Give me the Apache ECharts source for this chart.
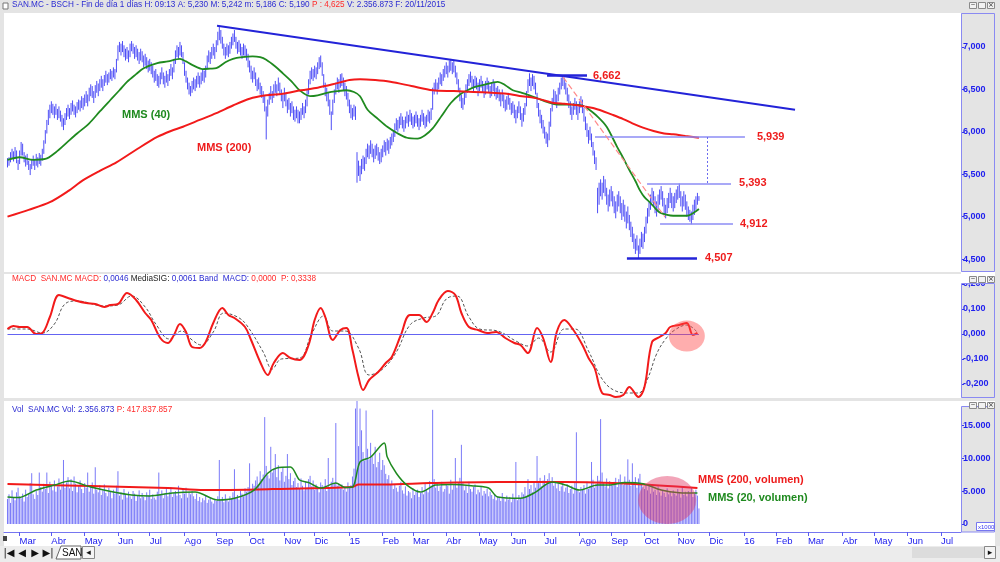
<!DOCTYPE html>
<html>
<head>
<meta charset="utf-8">
<title>SAN.MC - BSCH</title>
<script src="https://cdn.jsdelivr.net/npm/echarts@6.0.0/dist/echarts.min.js"></script>
<style>
  html, body { margin: 0; padding: 0; background: #e4e4e4; }
  #main { width: 1000px; height: 562px; }
</style>
</head>
<body>
<div id="main"></div>
<script>
// SAN.MC diario, 19/02/2014 .. 20/11/2015
const lows = [
  5.58,5.60,5.64,5.68,5.65,5.70,5.63,5.55,5.62,5.72, 5.72,5.64,5.59,5.61,5.55,5.49,5.56,5.60,5.55,5.60,
  5.58,5.62,5.60,5.66,5.74,5.86,5.98,6.08,6.16,6.22, 6.20,6.16,6.20,6.14,6.16,6.12,6.06,6.02,6.08,6.14,
  6.18,6.15,6.20,6.24,6.20,6.17,6.22,6.26,6.24,6.28, 6.26,6.30,6.34,6.30,6.36,6.42,6.40,6.34,6.40,6.46,
  6.42,6.48,6.52,6.48,6.54,6.58,6.55,6.58,6.62,6.60, 6.64,6.62,6.70,6.84,6.94,6.90,6.94,6.88,6.84,6.86,
  6.82,6.88,6.95,6.92,6.86,6.88,6.84,6.80,6.84,6.82, 6.76,6.78,6.74,6.70,6.72,6.68,6.64,6.58,6.60,6.54,
  6.52,6.56,6.62,6.56,6.52,6.58,6.54,6.60,6.66,6.62, 6.70,6.80,6.88,6.86,6.90,6.88,6.80,6.66,6.58,6.50,
  6.44,6.42,6.46,6.50,6.48,6.52,6.56,6.52,6.56,6.60, 6.58,6.64,6.74,6.82,6.80,6.86,6.90,6.86,6.94,7.02,
  7.08,7.04,6.98,6.90,6.86,6.90,6.88,6.92,6.98,7.02, 7.06,6.98,6.92,6.94,6.90,6.86,6.90,6.88,6.84,6.76,
  6.70,6.62,6.58,6.62,6.54,6.48,6.50,6.44,6.40,6.34, 6.24,5.91,6.18,6.32,6.38,6.34,6.40,6.46,6.42,6.48,
  6.44,6.36,6.28,6.36,6.30,6.22,6.26,6.18,6.22,6.14, 6.12,6.16,6.10,6.10,6.14,6.20,6.16,6.22,6.30,6.44,
  6.56,6.62,6.60,6.64,6.62,6.68,6.74,6.76,6.66,6.52, 6.42,6.36,6.30,6.20,6.02,6.20,6.34,6.44,6.50,6.46,
  6.52,6.54,6.48,6.42,6.38,6.30,6.22,6.16,6.14,6.18, 6.14,5.40,5.48,5.42,5.50,5.56,5.54,5.62,5.70,5.68,
  5.74,5.70,5.64,5.68,5.72,5.66,5.62,5.64,5.70,5.76, 5.72,5.78,5.74,5.80,5.84,5.88,5.94,6.02,6.00,6.04,
  6.08,6.04,6.00,6.04,6.10,6.06,6.12,6.08,6.04,6.06, 6.10,6.06,6.02,6.06,6.12,6.08,6.04,6.06,6.12,6.10,
  6.14,6.26,6.44,6.48,6.44,6.50,6.56,6.54,6.60,6.64, 6.68,6.64,6.70,6.72,6.68,6.70,6.64,6.56,6.48,6.36,
  6.28,6.26,6.32,6.40,6.46,6.54,6.58,6.52,6.48,6.52, 6.50,6.42,6.48,6.52,6.46,6.40,6.44,6.50,6.46,6.40,
  6.42,6.48,6.42,6.38,6.40,6.36,6.30,6.36,6.28,6.24, 6.26,6.32,6.26,6.20,6.22,6.16,6.10,6.16,6.22,6.14,
  6.06,6.12,6.20,6.30,6.46,6.54,6.48,6.54,6.50,6.44, 6.28,6.18,6.10,6.04,5.98,5.92,5.86,5.82,5.90,6.06,
  6.24,6.32,6.32,6.28,6.36,6.44,6.50,6.54,6.50,6.44, 6.36,6.28,6.20,6.14,6.20,6.26,6.20,6.14,6.22,6.28,
  6.22,6.12,6.02,5.94,5.86,5.90,5.82,5.72,5.62,5.55, 5.04,5.14,5.24,5.20,5.28,5.24,5.14,5.06,5.12,5.18,
  5.12,5.04,4.98,5.06,5.12,5.04,4.96,5.00,4.94,4.86, 4.92,4.84,4.76,4.70,4.62,4.56,4.60,4.51,4.56,4.64,
  4.62,4.70,4.80,4.92,5.00,5.08,5.16,5.12,5.04,5.00, 5.06,5.14,5.20,5.12,5.02,4.98,5.04,5.10,5.16,5.10,
  5.06,5.10,5.16,5.20,5.22,5.12,5.06,5.12,5.08,5.00, 4.96,4.94,4.91,4.96,5.02,5.08,5.14,5.186
];
const highs = [
  5.69,5.70,5.76,5.80,5.77,5.82,5.78,5.67,5.78,5.88, 5.86,5.76,5.72,5.74,5.66,5.62,5.68,5.72,5.68,5.74,
  5.70,5.75,5.73,5.80,5.90,6.02,6.14,6.26,6.32,6.36, 6.33,6.30,6.33,6.27,6.30,6.25,6.20,6.16,6.22,6.28,
  6.32,6.28,6.34,6.37,6.32,6.30,6.35,6.38,6.37,6.42, 6.40,6.44,6.48,6.44,6.52,6.56,6.54,6.48,6.55,6.60,
  6.57,6.62,6.66,6.62,6.67,6.72,6.68,6.70,6.74,6.72, 6.76,6.74,6.86,7.02,7.06,7.04,7.07,7.02,6.98,7.00,
  6.96,7.04,7.07,7.04,7.00,7.02,6.98,6.94,6.98,6.95, 6.90,6.92,6.88,6.84,6.86,6.82,6.78,6.72,6.74,6.68,
  6.66,6.70,6.76,6.70,6.66,6.72,6.68,6.74,6.80,6.76, 6.86,6.96,7.02,7.00,7.06,7.02,6.94,6.82,6.72,6.64,
  6.58,6.54,6.60,6.64,6.62,6.66,6.70,6.66,6.70,6.74, 6.72,6.78,6.90,6.96,6.94,7.00,7.04,7.00,7.08,7.18,
  7.24,7.20,7.12,7.04,7.00,7.04,7.02,7.06,7.12,7.16, 7.20,7.12,7.06,7.08,7.04,7.00,7.04,7.02,6.98,6.92,
  6.84,6.78,6.72,6.76,6.70,6.62,6.64,6.58,6.54,6.48, 6.42,6.30,6.38,6.46,6.54,6.48,6.56,6.60,6.56,6.64,
  6.58,6.50,6.44,6.52,6.46,6.38,6.40,6.34,6.36,6.30, 6.26,6.30,6.26,6.24,6.28,6.34,6.30,6.38,6.50,6.62,
  6.72,6.76,6.74,6.78,6.76,6.82,6.88,6.90,6.82,6.68, 6.58,6.52,6.46,6.38,6.24,6.38,6.50,6.58,6.64,6.62,
  6.68,6.69,6.64,6.58,6.54,6.46,6.38,6.32,6.28,6.32, 6.30,5.76,5.66,5.60,5.68,5.72,5.70,5.80,5.86,5.84,
  5.90,5.86,5.80,5.84,5.86,5.82,5.76,5.80,5.84,5.90, 5.88,5.92,5.90,5.94,5.98,6.02,6.10,6.16,6.14,6.18,
  6.22,6.18,6.14,6.18,6.24,6.20,6.26,6.22,6.18,6.20, 6.24,6.20,6.16,6.20,6.26,6.22,6.18,6.20,6.26,6.24,
  6.28,6.52,6.58,6.62,6.58,6.64,6.70,6.68,6.74,6.78, 6.82,6.78,6.84,6.86,6.82,6.84,6.78,6.70,6.62,6.52,
  6.44,6.40,6.46,6.56,6.62,6.68,6.71,6.66,6.62,6.66, 6.64,6.58,6.62,6.66,6.60,6.56,6.60,6.64,6.60,6.54,
  6.58,6.62,6.58,6.52,6.54,6.50,6.46,6.50,6.44,6.38, 6.42,6.46,6.40,6.34,6.36,6.32,6.26,6.30,6.36,6.30,
  6.22,6.28,6.34,6.48,6.62,6.69,6.64,6.68,6.66,6.58, 6.46,6.34,6.26,6.20,6.14,6.06,6.00,5.98,6.12,6.28,
  6.40,6.50,6.48,6.44,6.52,6.58,6.64,6.66,6.64,6.58, 6.52,6.44,6.36,6.30,6.34,6.40,6.36,6.30,6.36,6.42,
  6.38,6.28,6.18,6.10,6.02,6.06,5.98,5.88,5.78,5.70, 5.34,5.40,5.44,5.40,5.48,5.44,5.34,5.26,5.32,5.36,
  5.30,5.24,5.18,5.26,5.30,5.24,5.16,5.20,5.14,5.06, 5.12,5.02,4.94,4.88,4.80,4.74,4.78,4.66,4.74,4.82,
  4.80,4.88,5.00,5.10,5.18,5.26,5.34,5.30,5.24,5.18, 5.26,5.32,5.36,5.30,5.22,5.14,5.22,5.28,5.34,5.28,
  5.24,5.28,5.32,5.36,5.39,5.30,5.24,5.30,5.26,5.18, 5.12,5.08,5.06,5.14,5.20,5.24,5.28,5.242
];
// volumen diario en millones (el eje lo muestra x1000)
const volumes = [
  3.8,4.5,3.2,5.1,4.0,3.6,4.8,5.5,4.2,3.9,4.6,3.4,5.2,4.1,4.7,6.2,7.7,4.5,3.8,5.0,4.4,
  7.8,5.6,4.9,6.1,5.3,7.8,4.7,6.4,5.8,5.1,6.6,4.9,5.7,6.9,5.2,6.0,9.7,5.5,6.3,7.1,
  5.4,6.8,5.0,7.2,6.1,4.8,5.9,6.6,5.3,4.7,6.2,5.5,7.8,4.9,5.6,6.3,4.6,8.6,5.2,4.8,
  5.9,4.4,5.1,6.0,4.7,4.2,5.5,4.9,3.9,5.2,4.6,5.8,8.0,4.3,4.8,3.7,5.3,4.5,4.0,4.9,
  4.2,3.8,5.0,4.6,3.5,4.4,5.1,3.9,4.7,4.1,3.6,4.8,4.3,5.2,3.8,4.5,4.0,3.7,4.9,7.8,
  4.4,5.1,3.9,4.6,5.3,4.2,4.8,5.6,4.1,4.7,5.0,4.3,5.8,4.4,3.9,5.2,4.6,5.5,4.0,4.9,
  4.5,5.0,4.2,3.8,4.6,3.5,4.1,3.3,3.9,3.6,4.4,3.2,3.7,4.0,3.4,3.1,3.8,3.5,4.2,9.7,
  3.6,4.1,3.3,4.5,3.8,3.4,4.2,3.9,4.8,8.3,4.0,4.4,3.7,5.0,4.6,4.2,5.4,4.9,5.6,9.2,
  5.3,6.1,5.8,6.6,7.2,5.9,8.0,6.8,7.5,16.2,8.8,7.4,6.9,11.7,7.8,8.4,10.6,7.1,8.9,6.6,
  7.9,8.6,6.4,7.3,10.6,6.8,7.7,5.9,6.5,7.0,5.6,6.2,5.4,6.9,5.8,5.1,6.4,5.5,6.8,7.3,
  5.7,6.6,5.2,6.0,5.5,4.8,6.3,5.9,5.3,6.8,5.0,10.0,5.6,6.4,7.0,6.2,15.3,5.8,6.1,5.4,
  6.0,5.2,5.7,4.9,6.3,5.5,5.9,7.2,8.4,17.5,62.0,11.8,17.5,14.2,10.9,9.6,17.2,11.4,9.8,12.3,
  10.2,9.1,11.7,8.6,9.4,10.8,8.2,9.7,8.9,7.6,6.8,7.4,5.9,6.6,5.3,6.0,5.5,4.9,5.8,6.4,
  5.1,4.6,5.7,4.3,5.0,4.8,3.9,5.4,4.4,4.9,5.2,4.1,4.7,5.6,4.5,6.1,5.3,4.8,6.5,5.8,
  17.3,6.8,5.5,6.2,5.0,5.7,6.4,4.9,5.3,6.0,5.8,4.6,6.7,5.2,5.9,10.0,5.5,6.3,7.0,12.0,
  6.2,5.1,5.8,4.7,6.4,5.3,4.9,5.6,6.0,4.5,5.2,4.8,5.7,4.3,5.0,4.6,5.4,4.2,4.9,4.4,
  3.8,4.5,3.6,4.2,4.0,3.5,4.7,3.9,3.4,4.3,3.7,4.1,3.3,4.6,3.8,9.4,3.6,4.4,3.9,4.8,
  4.5,5.6,4.2,6.8,5.3,5.9,4.8,6.5,5.5,10.3,6.2,7.0,5.7,6.6,7.4,5.9,6.8,7.7,6.3,7.1,
  5.8,6.5,5.4,6.1,5.0,5.7,6.3,4.9,5.5,6.0,4.7,5.3,5.8,4.6,6.2,13.9,5.1,4.8,5.6,5.2,
  5.9,4.6,6.4,5.3,5.8,9.4,6.7,5.5,6.1,7.3,6.6,15.9,7.8,6.2,5.7,6.9,5.4,6.5,6.0,5.8,
  6.4,7.0,5.6,6.8,7.5,6.1,5.9,7.2,6.3,9.8,6.7,5.8,9.2,6.4,7.1,5.5,6.9,7.6,6.2,5.7,
  5.3,6.0,5.1,5.8,4.6,5.5,4.9,5.2,4.4,5.7,4.8,4.3,5.0,4.7,4.1,5.4,4.5,4.9,4.2,5.1,
  4.6,4.3,5.3,4.8,4.0,5.6,4.4,4.9,4.2,5.0,4.7,5.5,4.1,4.6,5.2,4.3,2.36
];

// medias y osciladores: [sesion, valor]
const mms40 = [[0,5.67],[8,5.70],[17,5.67],[25,5.68],[32,5.76],[39,5.87],[46,5.98],[54,6.10],[61,6.24],[68,6.375],
  [74,6.49],[79,6.59],[85,6.68],[90,6.75],[99,6.81],[106,6.83],[114,6.86],[118,6.83],[122,6.79],[129,6.74],
  [134,6.745],[138,6.75],[144,6.82],[149,6.86],[155,6.88],[162,6.89],[167,6.88],[171,6.85],[177,6.77],[182,6.69],
  [188,6.59],[193,6.49],[200,6.42],[205,6.43],[211,6.46],[218,6.48],[224,6.49],[229,6.47],[233,6.42],[238,6.26],
  [245,6.15],[251,6.06],[258,5.98],[264,5.93],[271,5.92],[276,5.96],[281,6.04],[287,6.19],[293,6.34],[299,6.44],
  [304,6.49],[309,6.53],[314,6.55],[324,6.59],[329,6.55],[334,6.49],[340,6.46],[345,6.43],[351,6.39],[357,6.35],
  [365,6.32],[374,6.32],[380,6.31],[383,6.28],[390,6.18],[396,6.06],[403,5.82],[407,5.69],[411,5.55],[415,5.42],
  [418,5.31],[421,5.23],[425,5.16],[428,5.10],[431,5.05],[436,5.02],[440,5.01],[449,5.01],[453,5.04],[457,5.09]];
const mms200 = [[0,5.00],[14,5.08],[28,5.17],[40,5.30],[50,5.43],[61,5.54],[72,5.64],[86,5.80],[99,5.94],[108,6.01],
  [116,6.06],[127,6.14],[138,6.22],[149,6.31],[160,6.39],[171,6.43],[182,6.45],[194,6.49],[205,6.52],[215,6.56],
  [226,6.61],[233,6.62],[243,6.61],[253,6.59],[267,6.54],[281,6.49],[295,6.48],[308,6.47],[320,6.46],[330,6.45],
  [340,6.42],[348,6.40],[355,6.37],[361,6.34],[368,6.33],[374,6.32],[381,6.30],[387,6.28],[394,6.24],[400,6.20],
  [407,6.15],[413,6.10],[420,6.05],[427,6.01],[434,5.98],[440,5.97],[448,5.95],[457,5.93]];
const trendLine = [[138.5,7.25],[520.5,6.26]];
const pinkLine = [[367.2,6.646],[434.6,4.995]];

// niveles marcados
const levelValues = [6.662, 5.939, 5.393, 4.912, 4.507];
const levelFrom = [356.6, 388.3, 422.7, 431.3, 409.4];
const levelTo = [383.0, 487.4, 478.2, 479.5, 455.7];
const levelLabels = ['6,662', '5,939', '5,393', '4,912', '4,507'];

const macdLine = [[0,0.02],[4,0.032],[8,0.028],[13,0.028],[19,0.0],[23,0.004],[28,0.068],[34,0.156],[40,0.144],[46,0.132],
  [52,0.124],[58,0.12],[64,0.108],[68,0.116],[73,0.12],[79,0.164],[85,0.136],[91,0.084],[95,0.056],[101,-0.016],
  [106,-0.036],[110,-0.004],[114,0.04],[118,0.008],[122,-0.052],[127,-0.056],[131,-0.032],[136,0.044],[142,0.104],[146,0.076],
  [150,0.064],[157,0.028],[161,-0.024],[167,-0.112],[172,-0.164],[176,-0.116],[182,-0.076],[187,-0.096],[193,-0.104],[199,-0.044],
  [203,0.056],[207,0.104],[210,0.068],[215,-0.024],[220,0.016],[224,0.024],[228,-0.064],[232,-0.172],[235,-0.224],[239,-0.184],
  [245,-0.152],[250,-0.116],[254,-0.092],[260,-0.004],[266,0.076],[272,0.076],[277,0.048],[281,0.084],[285,0.136],[291,0.172],
  [296,0.156],[300,0.084],[305,0.028],[311,0.016],[317,0.004],[323,0.008],[329,-0.016],[335,-0.036],[339,-0.044],[344,-0.076],
  [350,0.024],[354,-0.016],[359,-0.112],[363,0.008],[368,0.056],[374,0.016],[380,-0.044],[384,-0.096],[388,-0.136],[393,-0.236],
  [398,-0.244],[402,-0.252],[407,-0.244],[411,-0.212],[417,-0.252],[421,-0.212],[426,-0.032],[431,-0.012],[435,0.004],[438,0.028],
  [444,0.036],[449,0.044],[453,-0.004],[456,0.0046]];
const macdSignal = [[0,0.02],[13,0.02],[23,0.004],[31,0.04],[38,0.12],[46,0.132],[64,0.112],[73,0.116],[82,0.152],[91,0.108],
  [98,0.04],[107,-0.02],[115,0.012],[122,-0.024],[128,-0.044],[136,0.008],[143,0.084],[152,0.068],[158,0.036],[169,-0.072],
  [175,-0.14],[181,-0.1],[193,-0.096],[201,0.0],[209,0.072],[215,0.012],[223,0.012],[232,-0.056],[239,-0.164],[248,-0.14],
  [257,-0.072],[266,0.036],[275,0.064],[283,0.072],[290,0.14],[297,0.152],[305,0.068],[312,0.02],[324,0.012],[336,-0.028],
  [344,-0.048],[351,-0.016],[359,-0.072],[368,0.02],[375,0.02],[384,-0.068],[393,-0.18],[402,-0.228],[411,-0.236],[417,-0.236],
  [423,-0.18],[429,-0.08],[435,-0.02],[441,0.016],[449,0.036],[456,0.0061]];

const volMms20 = [[0,4.09],[7,4.0],[19,5.15],[31,5.9],[41,6.5],[55,5.6],[70,4.85],[82,4.4],[94,4.25],[109,4.7],
  [124,4.85],[139,3.64],[150,3.9],[163,5.15],[172,7.7],[178,8.5],[187,8.64],[193,6.67],[199,6.3],[207,5.45],
  [217,6.2],[223,5.55],[228,5.6],[233,9.4],[240,10.15],[249,12.27],[251,10.15],[257,7.7],[264,5.9],[273,4.85],
  [283,5.9],[294,6.0],[309,5.75],[318,5.45],[324,4.1],[339,3.9],[348,4.7],[360,6.36],[369,5.9],[378,5.15],
  [390,5.9],[398,5.9],[408,6.3],[420,6.1],[432,5.15],[444,4.75],[456,4.7]];
const volMms200 = [[0,6.06],[55,5.75],[106,5.45],[130,5.15],[175,5.3],[228,5.6],[232,6.0],[250,6.0],[279,6.2],[324,6.36],
  [369,6.36],[414,6.06],[456,5.45]];

// marcas circulares (centro en datos)
const macdCircle = [449, -0.008];
const volCircle = [436, 3.64];

const mesesES = ['Ene','Feb','Mar','Abr','May','Jun','Jul','Ago','Sep','Oct','Nov','Dic'];
const priceTicks = [4.5, 5.0, 5.5, 6.0, 6.5, 7.0];
const macdTicks = [-0.2, -0.1, 0, 0.1, 0.2];
const volTicks = [0, 5, 10, 15];

// sesiones (lunes a viernes) desde el 19/02/2014, incluye el futuro del eje
const sesiones = [];
let d = new Date(2014, 1, 19);
while (sesiones.length < 632) {
  if (d.getDay() !== 0 && d.getDay() !== 6) sesiones.push(new Date(d));
  d.setDate(d.getDate() + 1);
}
const monthIdx = [];
const monthText = {};
for (let i = 1; i < sesiones.length; i++) {
  if (sesiones[i].getMonth() !== sesiones[i - 1].getMonth()) {
    monthIdx.push(i);
    const m = sesiones[i].getMonth();
    monthText[i] = m === 0 ? String(sesiones[i].getFullYear()).slice(2) : mesesES[m];
  }
}

const X_MIN = -2.31, X_MAX = 630.2;
const BLUE_AXIS = '#8a8af2';
const LBL = '#2020ee';
const HDR = 8.2;

function xAx(gridIndex, show) {
  return {
    type: 'value', gridIndex: gridIndex, min: X_MIN, max: X_MAX,
    show: show, splitLine: { show: false },
    axisLine: { show: show, onZero: false, lineStyle: { color: '#7676f0', width: 1 } },
    axisTick: { show: show, customValues: monthIdx, length: 4, lineStyle: { color: '#5a5af0' } },
    axisLabel: {
      show: show, customValues: monthIdx, align: 'left', margin: 4,
      color: LBL, fontSize: 9.5, fontFamily: 'Liberation Sans',
      formatter: function (v) { return monthText[Math.round(v)] || ''; }
    }
  };
}
function yAx(gridIndex, min, max, ticks, fmt) {
  return {
    type: 'value', gridIndex: gridIndex, position: 'right', min: min, max: max,
    splitLine: { show: false },
    axisLine: { show: false, onZero: false },
    axisTick: { show: true, customValues: ticks, length: 3, lineStyle: { color: '#3a3af0' } },
    axisLabel: {
      customValues: ticks, margin: 2, color: LBL, fontSize: 9, fontWeight: 'bold',
      fontFamily: 'Liberation Sans', formatter: fmt
    }
  };
}
const fmtDec = v => v.toFixed(3).replace('.', ',');
const fmtVol = v => v === 0 ? '0' : String(Math.round(v * 1000)).replace(/\B(?=(\d{3})+(?!\d))/g, '.');

const VOL_MAX = 18.64;

function renderPriceBar(params, api) {
  const i = api.value(0);
  const lo = api.coord([i, api.value(1)]);
  const hi = api.coord([i, api.value(2)]);
  return { type: 'line', shape: { x1: lo[0], y1: lo[1], x2: hi[0], y2: hi[1] },
    style: { stroke: '#4e4ef6', lineWidth: 1 } };
}
function renderVolBar(params, api) {
  const i = api.value(0);
  const b = api.coord([i, 0]);
  const t = api.coord([i, Math.min(api.value(1), VOL_MAX)]);
  return { type: 'line', shape: { x1: b[0], y1: b[1], x2: t[0], y2: t[1] },
    style: { stroke: '#7a7af8', lineWidth: 1 } };
}

// lineas de niveles
const levelMarks = levelValues.map(function (v, k) {
  const heavy = (k === 0 || k === 4);
  const dist = [6, 12, 8, 7, 8][k];
  return [
    { coord: [levelFrom[k], v],
      lineStyle: { color: heavy ? '#2424d8' : '#8c8cf4', width: heavy ? 2.5 : 1.5, type: 'solid' },
      label: { show: true, position: 'end', distance: dist, formatter: levelLabels[k],
        color: '#ee1c1c', fontWeight: 'bold', fontSize: 11, fontFamily: 'Liberation Sans' } },
    { coord: [levelTo[k], v] }
  ];
});
levelMarks.push([
  { coord: [462.3, levelValues[1]], lineStyle: { color: '#6a6af0', width: 1, type: [2, 2] }, label: { show: false } },
  { coord: [462.3, levelValues[2]] }
]);
levelMarks.push([
  { coord: pinkLine[0], lineStyle: { color: '#ff8a8a', width: 1.2, type: [6, 3] }, label: { show: false } },
  { coord: pinkLine[1] }
]);

const chart = echarts.init(document.getElementById('main'));

const option = {
  animation: false,
  backgroundColor: '#e4e4e4',
  title: [
    { text: '{b|SAN.MC - BSCH - Fin de día 1 días H: 09:13 A: 5,230 M: 5,242 m: 5,186 C: 5,190 }{r|P : 4,625}{b| V: 2.356.873 F: 20/11/2015}',
      left: 12, top: 1, padding: 0,
      textStyle: { fontSize: HDR, fontWeight: 'normal', fontFamily: 'Liberation Sans',
        rich: { b: { color: '#2b2bd2', fontSize: HDR }, r: { color: '#ff2a2a', fontSize: HDR } } } },
    { text: '{r|MACD  SAN.MC MACD: }{b|0,0046 }{k|MediaSIG: }{b|0,0061 Band  MACD: }{r|0,0000  P: 0,3338}',
      left: 12, top: 275, padding: 0,
      textStyle: { fontSize: HDR, fontWeight: 'normal', fontFamily: 'Liberation Sans',
        rich: { b: { color: '#2b2bd2', fontSize: HDR }, r: { color: '#ff2a2a', fontSize: HDR }, k: { color: '#222', fontSize: HDR } } } },
    { text: '{b|Vol  SAN.MC Vol: 2.356.873 }{r|P: 417.837.857}',
      left: 12, top: 406, padding: 0,
      textStyle: { fontSize: HDR, fontWeight: 'normal', fontFamily: 'Liberation Sans',
        rich: { b: { color: '#2b2bd2', fontSize: HDR }, r: { color: '#ff2a2a', fontSize: HDR } } } }
  ],
  grid: [
    { left: 4, right: 39, top: 13, height: 259, show: true, backgroundColor: '#fff', borderWidth: 0 },
    { left: 4, right: 39, top: 274, height: 124, show: true, backgroundColor: '#fff', borderWidth: 0 },
    { left: 4, right: 39, top: 401, height: 131, show: true, backgroundColor: '#fff', borderWidth: 0 }
  ],
  xAxis: [xAx(0, false), xAx(1, false), xAx(2, true)],
  yAxis: [
    yAx(0, 4.347, 7.401, priceTicks, fmtDec),
    yAx(1, -0.256, 0.24, macdTicks, fmtDec),
    yAx(2, -1.21, VOL_MAX, volTicks, fmtVol)
  ],
  series: [
    { type: 'custom', name: 'SAN.MC', xAxisIndex: 0, yAxisIndex: 0, renderItem: renderPriceBar,
      data: lows.map((l, i) => [i, l, highs[i]]), encode: { x: 0, y: [1, 2] }, silent: true, z: 2 },
    { type: 'line', name: 'MMS (40)', xAxisIndex: 0, yAxisIndex: 0, data: mms40, showSymbol: false, smooth: 0.3,
      lineStyle: { color: '#1f8a1f', width: 1.8 }, silent: true, z: 3 },
    { type: 'line', name: 'MMS (200)', xAxisIndex: 0, yAxisIndex: 0, data: mms200, showSymbol: false, smooth: 0.3,
      lineStyle: { color: '#f21a1a', width: 2 }, silent: true, z: 3,
      markLine: { symbol: 'none', silent: true, data: levelMarks } },
    { type: 'line', name: 'Tendencia', xAxisIndex: 0, yAxisIndex: 0, data: trendLine, showSymbol: false,
      lineStyle: { color: '#2323d8', width: 2 }, silent: true, z: 4 },

    { type: 'line', name: 'MACD', xAxisIndex: 1, yAxisIndex: 1, data: macdLine, showSymbol: false, smooth: 0.35,
      lineStyle: { color: '#f21a1a', width: 2 }, silent: true, z: 4,
      markLine: { symbol: 'none', silent: true, label: { show: false },
        data: [[{ coord: [0, 0], lineStyle: { color: '#6464f2', width: 1, type: 'solid' } }, { coord: [457, 0] }]] } },
    { type: 'line', name: 'MediaSIG', xAxisIndex: 1, yAxisIndex: 1, data: macdSignal, showSymbol: false, smooth: 0.4,
      lineStyle: { color: '#555', width: 1, type: [3, 2] }, silent: true, z: 3 },
    { type: 'scatter', xAxisIndex: 1, yAxisIndex: 1, data: [macdCircle], symbolSize: [36, 31],
      itemStyle: { color: 'rgba(255,70,70,0.55)' }, silent: true, z: 5 },

    { type: 'custom', name: 'Vol', xAxisIndex: 2, yAxisIndex: 2, renderItem: renderVolBar,
      data: volumes.map((v, i) => [i, v]), encode: { x: 0, y: 1 }, silent: true, z: 2 },
    { type: 'line', name: 'MMS (200, volumen)', xAxisIndex: 2, yAxisIndex: 2, data: volMms200, showSymbol: false, smooth: 0.3,
      lineStyle: { color: '#f21a1a', width: 2 }, silent: true, z: 3 },
    { type: 'line', name: 'MMS (20, volumen)', xAxisIndex: 2, yAxisIndex: 2, data: volMms20, showSymbol: false, smooth: 0.3,
      lineStyle: { color: '#1f8a1f', width: 1.5 }, silent: true, z: 4 },
    { type: 'scatter', xAxisIndex: 2, yAxisIndex: 2, data: [volCircle], symbolSize: [58, 48],
      itemStyle: { color: 'rgba(225,50,95,0.55)' }, silent: true, z: 5 }
  ],
  graphic: [
    // columnas de ejes y cabeceras
    { type: 'rect', shape: { x: 961, y: 272, width: 34, height: 12 }, style: { fill: '#fff' }, z: 0 },
    { type: 'rect', shape: { x: 961, y: 401, width: 34, height: 6 }, style: { fill: '#fff' }, z: 0 },
    { type: 'rect', shape: { x: 4, y: 532, width: 991, height: 14 }, style: { fill: '#fff' }, z: 0 },
    { type: 'rect', shape: { x: 961.5, y: 13.5, width: 33, height: 258 }, style: { fill: 'none', stroke: BLUE_AXIS, lineWidth: 1 }, z: 1 },
    { type: 'rect', shape: { x: 961.5, y: 283.5, width: 33, height: 114 }, style: { fill: 'none', stroke: BLUE_AXIS, lineWidth: 1 }, z: 1 },
    { type: 'rect', shape: { x: 961.5, y: 406.5, width: 33, height: 125.5 }, style: { fill: 'none', stroke: BLUE_AXIS, lineWidth: 1 }, z: 1 },
    // tapa media etiqueta 0,200 como en el original
    { type: 'rect', shape: { x: 962, y: 274, width: 33, height: 9 }, style: { fill: '#fff' }, z: 100 },
    { type: 'rect', shape: { x: 976.5, y: 522.5, width: 18, height: 8 }, style: { fill: '#fff', stroke: '#7676f0', lineWidth: 1 }, z: 101 },
    { type: 'text', x: 978, y: 527, style: { text: 'x1000', fill: '#3a3af0', font: '6px Liberation Sans', verticalAlign: 'middle' }, z: 102 },
    // botones de ventana
    { type: 'group', children: [2, 276, 402].map(function (yy) {
      return { type: 'group', children: [
        { type: 'rect', shape: { x: 969.5, y: yy + 0.5, width: 7, height: 6 }, style: { fill: '#f2f2f2', stroke: '#8a8a8a' }, z: 102 },
        { type: 'rect', shape: { x: 978.5, y: yy + 0.5, width: 7, height: 6 }, style: { fill: '#f2f2f2', stroke: '#8a8a8a' }, z: 102 },
        { type: 'rect', shape: { x: 987.5, y: yy + 0.5, width: 7, height: 6 }, style: { fill: '#f2f2f2', stroke: '#8a8a8a' }, z: 102 },
        { type: 'text', x: 973, y: yy + 3, style: { text: '_', fill: '#333', font: '7px DejaVu Sans', align: 'center', verticalAlign: 'bottom' }, z: 103 },
        { type: 'text', x: 991, y: yy + 3.5, style: { text: '×', fill: '#333', font: '7px DejaVu Sans', align: 'center', verticalAlign: 'middle' }, z: 103 }
      ] };
    }) },
    { type: 'rect', shape: { x: 3, y: 3, width: 5, height: 6 }, style: { fill: '#fff', stroke: '#777' }, z: 8 },
    // etiquetas de medias
    { type: 'text', x: 122, y: 115, style: { text: 'MMS (40)', fill: '#1f8a1f', font: 'bold 11px Liberation Sans', verticalAlign: 'middle' }, z: 10 },
    { type: 'text', x: 197, y: 148, style: { text: 'MMS (200)', fill: '#ee1c1c', font: 'bold 11px Liberation Sans', verticalAlign: 'middle' }, z: 10 },
    { type: 'text', x: 698, y: 480, style: { text: 'MMS (200, volumen)', fill: '#ee1c1c', font: 'bold 11px Liberation Sans', verticalAlign: 'middle' }, z: 10 },
    { type: 'text', x: 708, y: 498, style: { text: 'MMS (20, volumen)', fill: '#1f8a1f', font: 'bold 11px Liberation Sans', verticalAlign: 'middle' }, z: 10 },
    // barra inferior
    { type: 'rect', shape: { x: 0, y: 546, width: 1000, height: 16 }, style: { fill: '#ececec' }, z: 0 },
    { type: 'rect', shape: { x: 3, y: 536, width: 4, height: 5 }, style: { fill: '#444' }, z: 8 },
    { type: 'group', children: ['|◀', '◀', '▶', '▶|'].map(function (g, k) {
      return { type: 'text', x: 9 + k * 13, y: 553, style: { text: g, fill: '#111', font: '10px DejaVu Sans', align: 'center', verticalAlign: 'middle' }, z: 8 };
    }) },
    { type: 'polygon', shape: { points: [[56, 559], [61, 546], [81, 546], [81, 559]] }, style: { fill: '#fff', stroke: '#666' }, z: 8 },
    { type: 'text', x: 62, y: 553, style: { text: 'SAN', fill: '#111', font: '10px Liberation Sans', verticalAlign: 'middle' }, z: 9 },
    { type: 'rect', shape: { x: 82.5, y: 546.5, width: 12, height: 12 }, style: { fill: '#f4f4f4', stroke: '#888' }, z: 8 },
    { type: 'text', x: 88.5, y: 553, style: { text: '◂', fill: '#111', font: '9px DejaVu Sans', align: 'center', verticalAlign: 'middle' }, z: 9 },
    { type: 'rect', shape: { x: 912, y: 547, width: 73, height: 11 }, style: { fill: '#dcdcdc' }, z: 8 },
    { type: 'rect', shape: { x: 984.5, y: 546.5, width: 11, height: 12 }, style: { fill: '#f4f4f4', stroke: '#888' }, z: 8 },
    { type: 'text', x: 990, y: 553, style: { text: '▸', fill: '#111', font: '9px DejaVu Sans', align: 'center', verticalAlign: 'middle' }, z: 9 }
  ]
};

chart.setOption(option);
</script>
</body>
</html>
